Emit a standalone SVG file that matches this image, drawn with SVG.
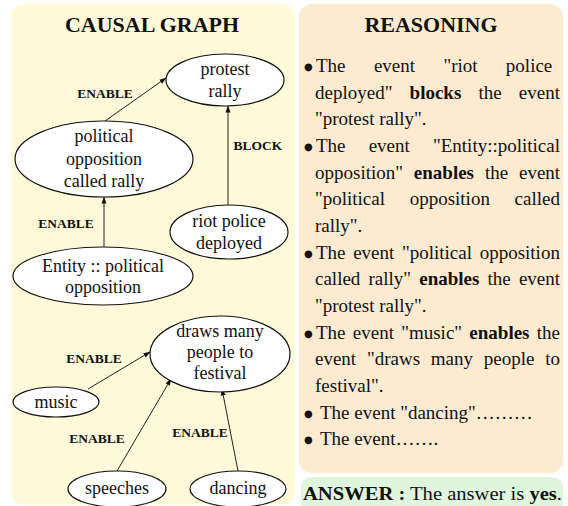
<svg xmlns="http://www.w3.org/2000/svg" width="568" height="506" viewBox="0 0 568 506">
<defs>
<marker id="arr" markerWidth="7" markerHeight="6" refX="6.5" refY="3" orient="auto" markerUnits="userSpaceOnUse">
<path d="M0,0.5 L7,3 L0,5.5 Z" fill="#111"/>
</marker>
</defs>
<style>
.node ellipse{fill:#fff;stroke:#111;stroke-width:1.2}
.nt{font-family:"Liberation Serif","Times New Roman",serif;font-size:18px;fill:#111;text-anchor:middle}
.el{font-family:"Liberation Serif","Times New Roman",serif;font-size:13.5px;font-weight:bold;fill:#111;text-anchor:middle}
.edge{stroke:#222;stroke-width:1;fill:none;marker-end:url(#arr)}
.title{font-family:"Liberation Serif","Times New Roman",serif;font-size:22px;font-weight:bold;fill:#111;text-anchor:middle}
.rt{font-family:"Liberation Serif","Times New Roman",serif;font-size:19px;fill:#111}
.b{font-weight:bold}
.bul{font-family:"DejaVu Sans",sans-serif;font-size:10px;fill:#111}
</style>
<rect id="panel-graph" x="11" y="4" width="284" height="501" rx="13" fill="#FFF9DA"/>
<rect id="panel-reasoning" x="299" y="4" width="264" height="469" rx="13" fill="#FDEBD1"/>
<rect id="panel-answer" x="301" y="477" width="262" height="45" rx="10" fill="#E0F5DE"/>
<text class="title" x="152" y="32">CAUSAL GRAPH</text>
<text class="title" x="431" y="32">REASONING</text>
<g id="connectors">
<line class="edge" x1="105" y1="121" x2="166" y2="78"/>
<line class="edge" x1="228" y1="205" x2="228" y2="106"/>
<line class="edge" x1="104" y1="247" x2="104" y2="197"/>
<line class="edge" x1="88" y1="389" x2="150" y2="352"/>
<line class="edge" x1="117" y1="471" x2="171" y2="379"/>
<line class="edge" x1="238" y1="471" x2="222" y2="389"/>
<text class="el" x="105" y="98">ENABLE</text>
<text class="el" x="258" y="150">BLOCK</text>
<text class="el" x="66" y="228">ENABLE</text>
<text class="el" x="94" y="363">ENABLE</text>
<text class="el" x="97" y="443">ENABLE</text>
<text class="el" x="200" y="437">ENABLE</text>
</g>
<g id="n-protest" class="node"><ellipse cx="225" cy="80" rx="59" ry="26"/><text class="nt" x="225" y="75">protest</text><text class="nt" x="225" y="97">rally</text></g>
<g id="n-political" class="node"><ellipse cx="104" cy="159" rx="89" ry="38"/><text class="nt" x="104" y="142">political</text><text class="nt" x="104" y="165">opposition</text><text class="nt" x="104" y="187">called rally</text></g>
<g id="n-riot" class="node"><ellipse cx="229" cy="232" rx="59" ry="27"/><text class="nt" x="229" y="227">riot police</text><text class="nt" x="229" y="249">deployed</text></g>
<g id="n-entity" class="node"><ellipse cx="103" cy="276" rx="90" ry="29"/><text class="nt" x="103" y="272">Entity :: political</text><text class="nt" x="103" y="293">opposition</text></g>
<g id="n-draws" class="node"><ellipse cx="220" cy="354" rx="70" ry="38"/><text class="nt" x="220" y="337">draws many</text><text class="nt" x="220" y="358">people to</text><text class="nt" x="220" y="379">festival</text></g>
<g id="n-music" class="node"><ellipse cx="56" cy="402" rx="43" ry="15"/><text class="nt" x="56" y="408">music</text></g>
<g id="n-speeches" class="node"><ellipse cx="117" cy="489" rx="49" ry="18"/><text class="nt" x="117" y="494">speeches</text></g>
<g id="n-dancing" class="node"><ellipse cx="238" cy="489" rx="48" ry="18"/><text class="nt" x="238" y="494">dancing</text></g>
<g id="reasoning">
<text class="bul" x="304" y="70">●</text>
<text class="rt" x="316" y="72" word-spacing="23.6">The event "riot police</text>
<text class="rt" x="315" y="98.7" word-spacing="12.4">deployed" <tspan class="b">blocks</tspan> the event</text>
<text class="rt" x="315" y="125.3">"protest rally".</text>
<text class="bul" x="304" y="150">●</text>
<text class="rt" x="316" y="152" word-spacing="18.4">The event "Entity::political</text>
<text class="rt" x="315" y="178.7" word-spacing="6.1">opposition" <tspan class="b">enables</tspan> the event</text>
<text class="rt" x="315" y="205.3" word-spacing="19.9">"political opposition called</text>
<text class="rt" x="315" y="232">rally".</text>
<text class="bul" x="304" y="256.7">●</text>
<text class="rt" x="316" y="258.7" word-spacing="2.9">The event "political opposition</text>
<text class="rt" x="315" y="285.3" word-spacing="3.4">called rally" <tspan class="b">enables</tspan> the event</text>
<text class="rt" x="315" y="312">"protest rally".</text>
<text class="bul" x="304" y="336.7">●</text>
<text class="rt" x="316" y="338.7" word-spacing="2.5">The event "music" <tspan class="b">enables</tspan> the</text>
<text class="rt" x="315" y="365.3" word-spacing="6">event "draws many people to</text>
<text class="rt" x="315" y="392">festival".</text>
<text class="bul" x="304" y="416.7">●</text>
<text class="rt" x="320" y="418.7">The event "dancing"………</text>
<text class="bul" x="304" y="443.3">●</text>
<text class="rt" x="320" y="445.3">The event…….</text>
</g>
<g id="answer">
<text class="rt" x="303" y="500" textLength="259" lengthAdjust="spacingAndGlyphs"><tspan class="b">ANSWER :</tspan> The answer is <tspan class="b">yes</tspan>.</text>
</g>
</svg>
